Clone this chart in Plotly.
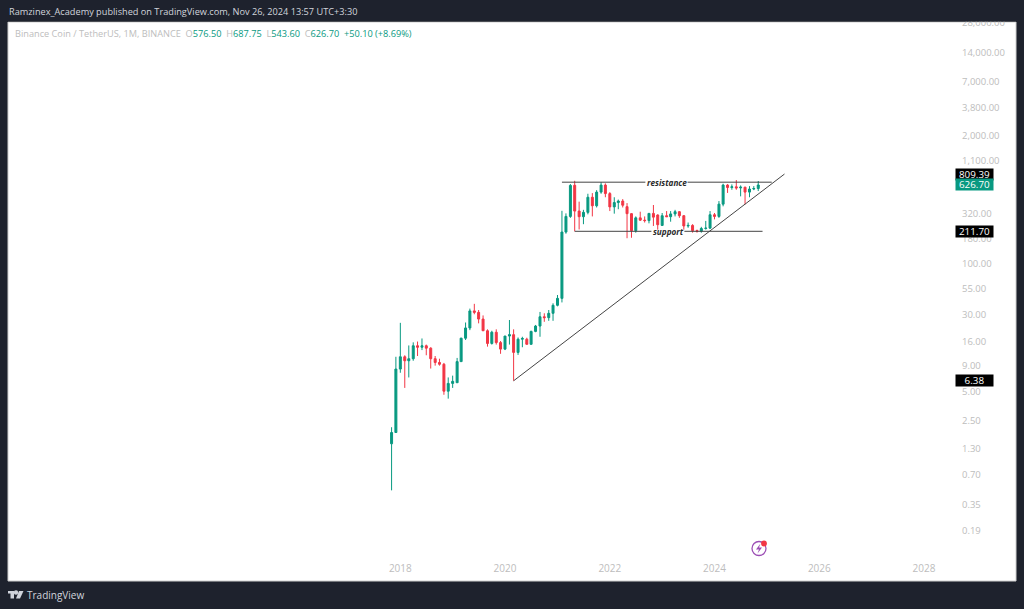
import math
import pandas as pd
import plotly.graph_objects as go

W, H = 1024, 609
BG = "#1e222d"
GREEN = "#089981"
RED = "#f23645"
TICK = "#bdbdbd"

dates = pd.date_range("2017-11-01", periods=85, freq="MS")
opens = [1.46, 1.9,
         8.4, 11.2, 10.2, 10.7, 14.5, 14.0, 14.5, 13.7, 10.7, 9.8, 9.4, 5.0,
         6.0, 6.1, 10.0, 17.3, 22.0, 32.8, 31.7, 27.1, 20.6, 15.3, 19.9, 15.6,
         13.4, 18.2, 18.8, 12.4, 16.9, 16.9, 15.0, 20.3, 23.0, 28.6, 28.0, 31.0,
         37.4, 44.0, 208, 300, 622, 340, 298, 330, 470, 385, 530, 625,
         512, 375, 415, 430, 377, 320, 215, 290, 275, 272, 322, 310,
         243, 305, 298, 318, 335, 305, 240, 243, 215, 212, 226, 228,
         312, 300, 400, 625, 590, 600, 585, 595, 530, 570, 576.5]
highs = [2.15, 11.2,
         24.8, 11.6, 14.6, 15.7, 16.0, 17.2, 14.9, 14.0, 11.4, 10.7, 9.7, 6.9,
         7.2, 10.9, 17.5, 25.0, 34.6, 38.7, 33.5, 29.5, 21.3, 20.6, 21.3, 16.2,
         18.2, 26.5, 21.3, 17.6, 17.9, 17.5, 20.6, 23.6, 32.0, 31.0, 33.5, 39.2,
         47.6, 342, 322, 640, 691, 424, 350, 510, 518, 555, 669, 650,
         530, 470, 445, 450, 410, 325, 300, 335, 300, 322, 392, 315,
         325, 340, 340, 350, 340, 310, 260, 250, 220, 235, 270, 340,
         325, 430, 645, 640, 635, 703, 620, 600, 610, 610, 687.75]
lows = [0.49, 1.9,
        7.7, 5.4, 6.9, 10.2, 11.4, 13.1, 11.6, 8.5, 9.1, 9.1, 4.6, 4.2,
        5.4, 6.1, 10.0, 16.6, 20.9, 30.3, 24.5, 20.6, 14.2, 14.9, 14.9, 12.0,
        13.1, 14.9, 6.38, 11.7, 14.0, 14.9, 14.9, 19.9, 17.9, 25.4, 26.0, 26.0,
        36.5, 40.0, 200, 290, 211.7, 221, 250, 315, 300, 370, 510, 470,
        340, 320, 355, 370, 180, 182, 205, 270, 260, 255, 240, 220,
        240, 300, 265, 300, 290, 220, 230, 205, 205, 205, 220, 225,
        280, 290, 380, 520, 560, 560, 480, 398, 470, 555, 543.6]
closes = [1.9, 8.4,
          11.2, 10.2, 10.7, 14.5, 14.0, 14.5, 13.7, 10.7, 9.8, 9.4, 5.0, 6.0,
          6.3, 10.0, 17.3, 22.0, 32.8, 31.7, 27.1, 20.6, 15.3, 19.9, 15.6, 13.4,
          18.2, 18.8, 12.4, 16.9, 17.2, 15.0, 20.3, 23.0, 28.6, 28.0, 31.0, 37.4,
          44.0, 208, 300, 620, 340, 298, 330, 470, 385, 530, 625, 512,
          375, 415, 430, 390, 320, 215, 290, 275, 272, 322, 295, 247,
          305, 298, 318, 335, 305, 240, 243, 215, 212, 226, 228, 312,
          300, 400, 625, 590, 600, 585, 595, 530, 570, 576.5, 626.7]

trend_x = ["2020-03-01", "2025-05-03"]
trend_y = [6.38, 809.39]
res_x = ["2021-02-01", "2022-09-06", None, "2023-06-27", "2025-02-03"]
res_y = [669, 669, None, 669, 669]
sup_x = ["2021-05-01", "2022-10-18", None, "2023-06-05", "2024-12-01"]
sup_y = [211.7, 211.7, None, 211.7, 211.7]

x_ticks = ["2018-01-01", "2020-01-01", "2022-01-01", "2024-01-01", "2026-01-01", "2028-01-01"]
x_labels = ["2018", "2020", "2022", "2024", "2026", "2028"]
y_ticks = [28000, 14000, 7000, 3800, 2000, 1100, 320, 180, 100, 55, 30, 16, 9, 5, 2.5, 1.3, 0.7, 0.35, 0.19]
y_labels = ["28,000.00", "14,000.00", "7,000.00", "3,800.00", "2,000.00", "1,100.00", "320.00", "180.00",
            "100.00", "55.00", "30.00", "16.00", "9.00", "5.00", "2.50", "1.30", "0.70", "0.35", "0.19"]
price_tags = [(809.39, "809.39", "#000000"), (626.70, "626.70", GREEN), (211.70, "211.70", "#000000"), (6.38, "6.38", "#000000")]

L, R, T, B = 8, 960, 22, 558


def px(x):
    return (x - L) / (R - L)


def py(y):
    return (B - y) / (B - T)


def rect(x0, y0, x1, y1, fill, layer="below", line=None):
    return dict(type="rect", xref="paper", yref="paper", x0=px(x0), x1=px(x1), y0=py(y0), y1=py(y1),
                fillcolor=fill, line=dict(color=line or fill, width=1 if line else 0), layer=layer)


def circle(x, y, r, fill=None, line=None, width=1.4):
    return dict(type="circle", xref="paper", yref="paper", x0=px(x - r), x1=px(x + r), y0=py(y + r), y1=py(y - r),
                fillcolor=fill or "rgba(0,0,0,0)", line=dict(color=line or fill, width=width), layer="above")


def path(points, fill):
    d = "M " + " L ".join(f"{px(a):.5f},{py(b):.5f}" for a, b in points) + " Z"
    return dict(type="path", xref="paper", yref="paper", path=d, fillcolor=fill, line=dict(width=0), layer="above")


fig = go.Figure()
fig.add_trace(go.Candlestick(
    x=dates, open=opens, high=highs, low=lows, close=closes, whiskerwidth=0,
    increasing=dict(line=dict(color=GREEN, width=1), fillcolor=GREEN),
    decreasing=dict(line=dict(color=RED, width=1), fillcolor=RED),
    showlegend=False))
for xs, ys in [(trend_x, trend_y), (res_x, res_y), (sup_x, sup_y)]:
    fig.add_trace(go.Scatter(x=xs, y=ys, mode="lines", line=dict(color="#444444", width=1),
                             connectgaps=False, showlegend=False, hoverinfo="skip"))

FONT = "Open Sans"
sm = f"color:{TICK}"
gr = f"color:{GREEN}"
legend = (f'<span style="{sm}">Binance Coin / TetherUS, 1M, BINANCE&nbsp;&nbsp;O</span><span style="{gr}">576.50</span>'
          f'<span style="{sm}">&nbsp;&nbsp;H</span><span style="{gr}">687.75</span>'
          f'<span style="{sm}">&nbsp;&nbsp;L</span><span style="{gr}">543.60</span>'
          f'<span style="{sm}">&nbsp;&nbsp;C</span><span style="{gr}">626.70&nbsp;&nbsp;+50.10 (+8.69%)</span>')

ann = [
    dict(xref="paper", yref="paper", x=px(7), y=py(12), xanchor="left", yanchor="middle", showarrow=False,
         text="Ramzinex_Academy published on TradingView.com, Nov 26, 2024 13:57 UTC+3:30",
         font=dict(family=FONT, size=9.2, color="#d1d4dc")),
    dict(xref="paper", yref="paper", x=px(13), y=py(34), xanchor="left", yanchor="middle", showarrow=False,
         text=legend, font=dict(family=FONT, size=9.2, color=TICK)),
    dict(xref="paper", yref="paper", x=px(25), y=py(595), xanchor="left", yanchor="middle", showarrow=False,
         text="TradingView", font=dict(family=FONT, size=10, color="#d1d4dc")),
    dict(x="2023-02-01", y=2.826, yref="y", xref="x", showarrow=False, text="<b><i>resistance</i></b>",
         font=dict(family=FONT, size=8.2, color="#2a2a2a")),
    dict(x="2023-02-15", y=2.326, yref="y", xref="x", showarrow=False, text="<b><i>support</i></b>",
         font=dict(family=FONT, size=8.2, color="#2a2a2a")),
]
for val, txt, col in price_tags:
    ann.append(dict(xref="paper", yref="y", x=px(955), y=math.log10(val), xanchor="left", yanchor="middle",
                    showarrow=False, text=txt, width=36, height=10, align="center", bgcolor=col, borderpad=0.5,
                    font=dict(family=FONT, size=9.8, color="#ffffff")))

shapes = [
    rect(8, 22, 1016, 581, "#ffffff", line="#cfcfcf"),
    rect(0, 0, W, 21.5, BG, layer="above"),
    circle(759, 548.5, 7, line="#9c4fb5", width=1.3),
    path([(760.5, 543.5), (756, 549.5), (759, 549.5), (757.5, 553.5), (762, 547.5), (759, 547.5)], "#9c4fb5"),
    circle(764, 543.5, 2.2, fill="#f23645"),
    rect(8, 591, 14, 593.5, "#d1d4dc", layer="above"),
    rect(10.5, 591, 14, 598.5, "#d1d4dc", layer="above"),
    circle(16, 592.5, 1.5, fill="#d1d4dc"),
    path([(19, 591), (23.5, 591), (20, 598.5), (16, 598.5)], "#d1d4dc"),
]

fig.update_layout(
    width=W, height=H, autosize=False,
    paper_bgcolor=BG, plot_bgcolor="#ffffff",
    margin=dict(l=L, r=W - R, t=T, b=H - B, pad=0),
    showlegend=False, annotations=ann, shapes=shapes,
    xaxis=dict(type="date", range=["2010-07-06", "2028-09-08"], rangeslider=dict(visible=False),
               showgrid=False, zeroline=False, showline=False, ticks="",
               tickmode="array", tickvals=x_ticks, ticktext=x_labels, ticklabelstandoff=3,
               tickfont=dict(family=FONT, size=10, color=TICK)),
    yaxis=dict(type="log", range=[-0.998, 4.455], side="right", showgrid=False, zeroline=False, showline=False,
               ticks="", tickmode="array", tickvals=y_ticks, ticktext=y_labels, ticklabelstandoff=1,
               tickfont=dict(family=FONT, size=9.5, color=TICK)),
)

fig.write_html("out.html", config={"displayModeBar": False},
               post_script="document.body.style.margin='0';document.body.style.overflow='hidden';")
